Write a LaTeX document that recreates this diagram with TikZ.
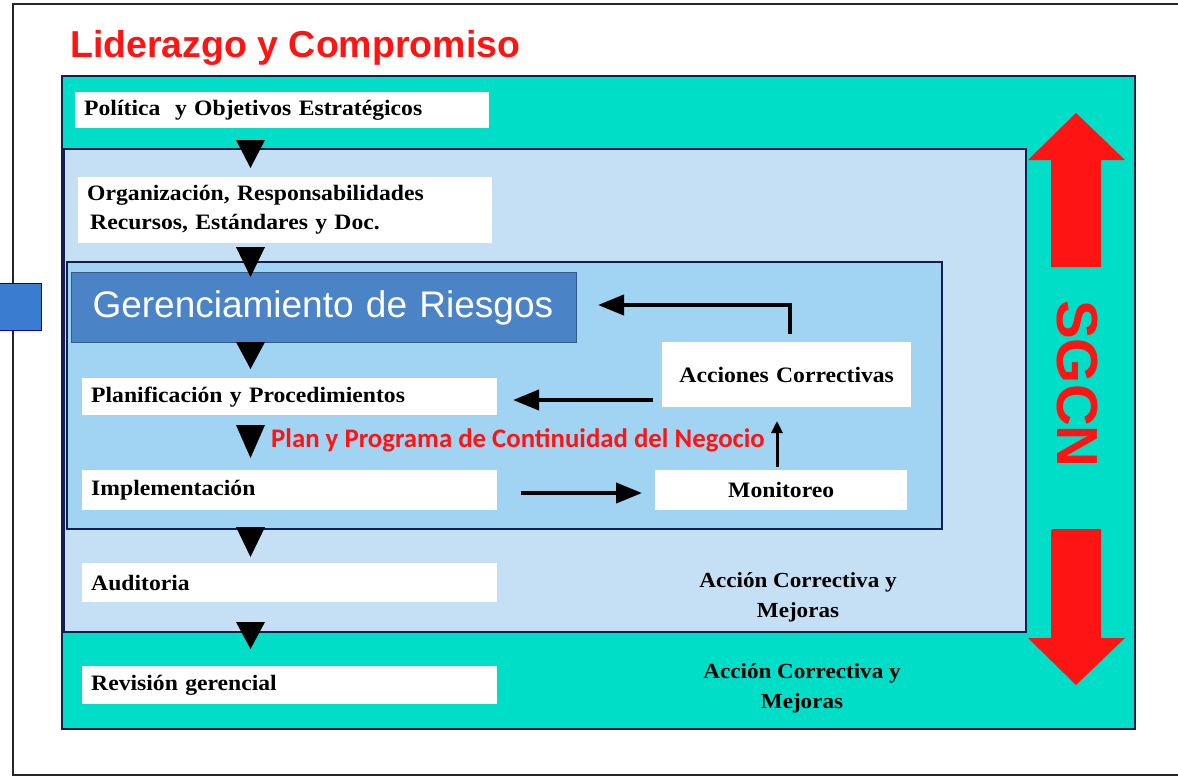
\documentclass[tikz,border=0pt]{standalone}
\usepackage{fontspec}
\setmainfont{Liberation Serif}
\newfontfamily\timesw[FakeStretch=1.075]{Liberation Serif}
\newfontfamily\arialf{Liberation Sans}
\newfontfamily\calib{Carlito}
\usetikzlibrary{arrows.meta,shapes.geometric}
\definecolor{tealbg}{RGB}{0,222,200}
\definecolor{lightbg}{RGB}{197,224,245}
\definecolor{innerbg}{RGB}{160,212,242}
\definecolor{navy}{RGB}{20,30,80}
\definecolor{gerblue}{RGB}{74,132,198}
\definecolor{stubblue}{RGB}{58,124,208}
\definecolor{redt}{RGB}{255,20,20}
\tikzset{
  wbox/.style={fill=white, anchor=north west, inner xsep=9pt, inner ysep=0pt, align=left,
    font=\timesw\bfseries\fontsize{22}{29}\selectfont},
  cbox/.style={fill=white, anchor=north west, inner sep=0pt, align=center,
    font=\timesw\bfseries\fontsize{22}{29}\selectfont},
  tri/.style={fill=black},
  bar/.style={line width=4pt, -{Triangle[length=26pt,width=20pt]}},
  thinbar/.style={line width=3pt, -{Triangle[length=12pt,width=11pt]}},
  note/.style={align=center, font=\timesw\bfseries\fontsize{21.5}{30}\selectfont},
  bigred/.style={fill=redt, draw=none}
}
\begin{document}
\begin{tikzpicture}[x=1pt,y=-1pt]
\useasboundingbox (0,0) rectangle (1178,776);
\fill[white] (0,0) rectangle (1178,776);
% outer frame
\draw[line width=1.3pt, black!85] (1178,4) -- (13,4) -- (13,775) -- (1178,775);
% blue stub
\draw[fill=stubblue, draw=blue!70!black, line width=1pt] (-2,283) rectangle (41,330);
% title
\node[anchor=base west, text=redt, inner sep=0pt, font=\arialf\bfseries\fontsize{37.5}{40}\selectfont] (title) at (70,58) {Liderazgo y Compromiso};
% nested frames
\draw[fill=tealbg, draw=navy, line width=1.5pt] (62,76) rectangle (1135,729);
\draw[fill=lightbg, draw=navy, line width=1.5pt] (64,149) rectangle (1026,632);
\draw[fill=innerbg, draw=navy, line width=1.5pt] (67,262) rectangle (942,529);
% boxes
\node[wbox, text width=396pt, minimum height=36pt] (pol) at (75,92) {Pol\'itica\ \ y Objetivos Estrat\'egicos};
\node[wbox, text width=396pt, minimum height=66pt] (org) at (78,177) {Organizaci\'on, Responsabilidades\\\hspace{3pt}Recursos, Est\'andares y Doc.};
\node[fill=gerblue, draw=gerblue!70!black, line width=1pt, anchor=north west, minimum width=505pt, minimum height=70pt, inner xsep=21pt, text width=463pt, align=left, text=white, font=\arialf\fontsize{37}{40}\selectfont] (ger) at (71,272) {Gerenciamiento de Riesgos};
\node[wbox, text width=397pt, minimum height=37pt] (plan) at (82,378) {Planificaci\'on y Procedimientos};
\node[wbox, text width=397pt, minimum height=40pt] (impl) at (82,470) {Implementaci\'on};
\node[wbox, text width=397pt, minimum height=39pt] (aud) at (82,563) {Auditoria};
\node[wbox, text width=397pt, minimum height=38pt] (rev) at (82,666) {Revisi\'on gerencial};
\node[cbox, text width=249pt, minimum height=65pt] (acc) at (662,342) {Acciones Correctivas};
\node[cbox, text width=252pt, minimum height=40pt] (mon) at (655,470) {Monitoreo};
% red text
\node[anchor=west, text=redt, inner sep=0pt, font=\calib\bfseries\fontsize{26.8}{28}\selectfont] (pp) at (271,440) {Plan y Programa de Continuidad del Negocio};
% notes
\node[note] (n1) at (798,597) {Acci\'on Correctiva y\\Mejoras};
\node[note] (n2) at (802,688) {Acci\'on Correctiva y\\Mejoras};
% SGCN
\node[text=redt, rotate=-90, inner sep=0pt, font=\arialf\bfseries\fontsize{58}{60}\selectfont] (sgcn) at (1077,384) {SGCN};
% red arrows
\fill[bigred] (1076,113) -- (1125,160) -- (1101,160) -- (1101,267) -- (1051,267) -- (1051,160) -- (1028,160) -- cycle;
\fill[bigred] (1076,685) -- (1125,638) -- (1101,638) -- (1101,529) -- (1051,529) -- (1051,638) -- (1028,638) -- cycle;
% down triangles
\foreach \ya/\yb in {140/168, 247/277, 342/369, 425/458, 527/557, 622/649}{
  \fill[tri] (236,\ya) -- (265,\ya) -- (250.5,\yb) -- cycle;
}
% connectors
\coordinate (c1) at (790,334);
\coordinate (c2) at (598,305);
\coordinate (c3) at (653,400);
\coordinate (c4) at (513,400);
\coordinate (c5) at (521,493);
\coordinate (c6) at (642,493);
\coordinate (c7) at (777,467);
\coordinate (c8) at (777,421);
\draw[bar] (c1) |- (c2);
\draw[bar] (c3) -- (c4);
\draw[bar] (c5) -- (c6);
\draw[thinbar] (c7) -- (c8);
\end{tikzpicture}
\end{document}
